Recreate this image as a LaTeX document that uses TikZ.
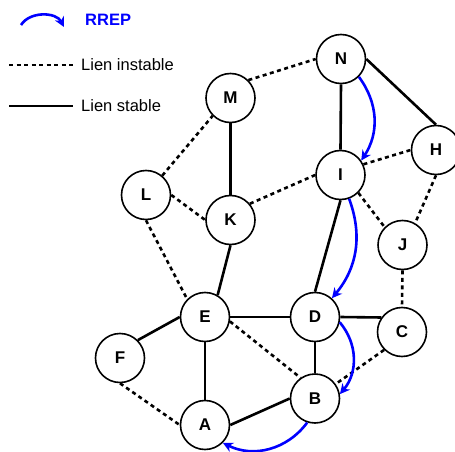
\documentclass[tikz,border=0pt]{standalone}
\usepackage{fontspec}
\setmainfont{Liberation Sans}
\usetikzlibrary{arrows.meta}
\begin{document}
\begin{tikzpicture}[x=1pt,y=-1pt,
  nd/.style={circle,draw,line width=1.6pt,fill=white,minimum size=49pt,inner sep=0pt,font=\fontsize{17}{17}\selectfont\bfseries},
  stable/.style={line width=2.6pt},
  unstable/.style={line width=2.6pt,dash pattern=on 4pt off 3.5pt},
  rrep/.style={line width=2.6pt,draw={rgb,255:red,0;green,0;blue,255},-{Stealth[length=10pt,width=10pt]}},
  legtxt/.style={anchor=west,inner sep=0pt,font=\fontsize{16.5}{16.5}\selectfont}]
\useasboundingbox (0,0) rectangle (455,452);
% nodes
\node[nd] (N) at (341,59) {N};
\node[nd] (I) at (340.5,175) {I};
\node[nd] (H) at (436,150) {H};
\node[nd] (M) at (230.5,98) {M};
\node[nd] (L) at (146,195) {L};
\node[nd] (K) at (230.5,220) {K};
\node[nd] (J) at (402.5,245) {J};
\node[nd] (E) at (205,317) {E};
\node[nd] (D) at (315,317) {D};
\node[nd] (C) at (402,332) {C};
\node[nd] (F) at (120,358) {F};
\node[nd] (B) at (315,398.5) {B};
\node[nd] (A) at (205,425) {A};
% stable links
\draw[stable] (N.south) -- (I.north);
\draw[stable] (N.east) -- (H.north);
\draw[stable] (M.south) -- (K.north);
\draw[stable] (K.south) -- (E.60);
\draw[stable] (I.south) -- (D.north);
\draw[stable] (E.east) -- (D.west);
\draw[stable] (D.east) -- (C.145);
\draw[stable] (D.south) -- (B.north);
\draw[stable] (E.south) -- (A.north);
\draw[stable] (E.west) -- (F.45);
\draw[stable] (A.east) -- (B.west);
% unstable links
\draw[unstable] (M.45) -- (N.west);
\draw[unstable] (L.50) -- (M.225);
\draw[unstable] (L.east) -- (K.west);
\draw[unstable] (K.40) -- (I.west);
\draw[unstable] (I.25) -- (H.west);
\draw[unstable] (I.-45) -- (J.135);
\draw[unstable] (H.south) -- (J.60);
\draw[unstable] (J.south) -- (C.north);
\draw[unstable] (L.south) -- (E.135);
\draw[unstable] (E.-10) -- (B.125);
\draw[unstable] (C.-135) -- (B.35);
\draw[unstable] (F.south) -- (A.west);
% RREP arrows
\draw[rrep] (N.-45) to[bend left=35] (I.35);
\draw[rrep] (I.-70) to[bend left=30] (D.48);
\draw[rrep] (D.-12) to[bend left=40] (B.10);
\draw[rrep] (B.-108) to[bend left=40] (A.-45);
% legend
\coordinate (la) at (21,25);
\coordinate (lb) at (64,27);
\draw[rrep] (la) to[bend left=60] (lb);
\node[legtxt,text={rgb,255:red,0;green,0;blue,255},font=\fontsize{16.5}{16.5}\selectfont\bfseries] (rt) at (85,20) {RREP};
\coordinate (d1) at (9,65);
\coordinate (d2) at (73,65);
\draw[unstable] (d1) -- (d2);
\node[legtxt] (ut) at (81,65) {Lien instable};
\coordinate (s1) at (9,106);
\coordinate (s2) at (73,106);
\draw[stable] (s1) -- (s2);
\node[legtxt] (st) at (81,106) {Lien stable};
\end{tikzpicture}
\end{document}
